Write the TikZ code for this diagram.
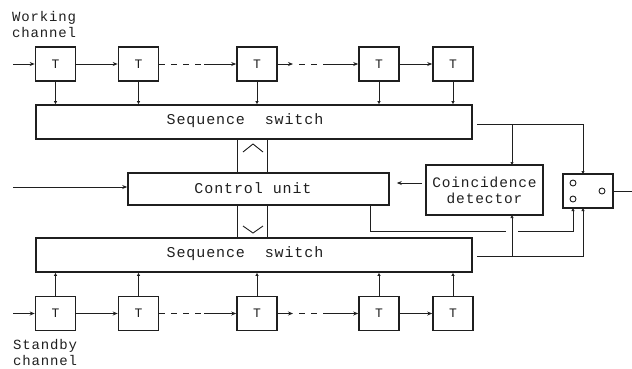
\documentclass[tikz,border=0pt]{standalone}
\usepackage{fontspec}
\usetikzlibrary{arrows.meta,calc}
\newfontfamily\plotfont[LetterSpace=6]{Liberation Mono}
\newfontfamily\labfont[LetterSpace=6]{Liberation Mono}
\definecolor{ink}{gray}{0.12}
\tikzset{
  blk/.style={draw=ink, line width=1.6pt, inner sep=0pt, font=\plotfont\fontsize{15}{16}\selectfont, text=ink},
  tbox/.style={blk, minimum width=40pt, minimum height=34pt, font=\plotfont\fontsize{13}{14}\selectfont},
  wire/.style={draw=ink, line width=0.9pt},
  harr/.style={wire, -{Stealth[length=5pt,width=4pt]}},
  varr/.style={wire, -{Latex[length=3pt,width=3.5pt]}},
  lbl/.style={inner sep=0pt, font=\labfont\fontsize{14}{16.5}\selectfont, text=ink, align=left, anchor=north west},
  swtext/.style={font=\plotfont\fontsize{15}{16}\selectfont, text=ink, inner sep=0pt},
  dashwire/.style={wire, dash pattern=on 6pt off 6pt}
}
\begin{document}
\begin{tikzpicture}[x=1pt,y=-1pt]
\useasboundingbox (0,0) rectangle (632,368);
% labels
\node[lbl] (wl) at (12,11) {Working\\channel};
\node[lbl] (sl) at (13,339) {Standby\\channel};
% top T boxes
\node[tbox] (t1) at (55.5,64) {T};
\node[tbox] (t2) at (138.5,64) {T};
\node[tbox] (t3) at (257,64) {T};
\node[tbox] (t4) at (379,64) {T};
\node[tbox] (t5) at (453,64) {T};
% bottom T boxes
\node[tbox] (b1) at (55.5,313.5) {T};
\node[tbox] (b2) at (138.5,313.5) {T};
\node[tbox] (b3) at (257,313.5) {T};
\node[tbox] (b4) at (379,313.5) {T};
\node[tbox] (b5) at (453,313.5) {T};
% switches and control
\node[blk, minimum width=436pt, minimum height=34pt] (sw1) at (254,122) {};
\node[swtext] (sw1t) at (245,121) {Sequence\ \ switch};
\node[blk, minimum width=436pt, minimum height=34pt] (sw2) at (254,255) {};
\node[swtext] (sw2t) at (245,254) {Sequence\ \ switch};
\node[blk, minimum width=261pt, minimum height=32pt] (ctl) at (258.5,189) {};
\node[swtext] (ctlt) at (253,188.5) {Control\ unit};
\node[blk, minimum width=117pt, minimum height=50pt, align=center, font=\plotfont\fontsize{14.5}{16}\selectfont] (det) at (484.5,190) {Coincidence\\detector};
\node[blk, minimum width=50pt, minimum height=34pt] (sb) at (588,191) {};
% switch contacts
\draw[wire] (573,183) circle (3pt) (573,199) circle (3pt) (602,191) circle (3pt);
% inputs
\coordinate (inw) at (13,64);
\coordinate (ins) at (13,313.5);
\coordinate (inc) at (13,187);
\draw[harr] (inw) -- (t1.west);
\draw[harr] (ins) -- (b1.west);
\draw[harr] (inc) -- (inc -| ctl.west);
% top chain
\draw[harr] (t1) -- (t2);
\coordinate (ta) at (204,64);
\draw[dashwire] (t2.east) -- (ta);
\draw[harr] (ta) -- (t3.west);
\coordinate (tb) at (293,64);
\coordinate (tc) at (327,64);
\draw[harr] (t3.east) -- (tb);
\draw[dashwire] (299,64) -- (tc);
\draw[harr] (tc) -- (t4.west);
\draw[harr] (t4) -- (t5);
% bottom chain
\draw[harr] (b1) -- (b2);
\coordinate (ba) at (204,313.5);
\draw[dashwire] (b2.east) -- (ba);
\draw[harr] (ba) -- (b3.west);
\coordinate (bb) at (293,313.5);
\coordinate (bc) at (327,313.5);
\draw[harr] (b3.east) -- (bb);
\draw[dashwire] (299,313.5) -- (bc);
\draw[harr] (bc) -- (b4.west);
\draw[harr] (b4) -- (b5);
% T to switches
\foreach \n in {1,...,5}{
  \draw[varr] (t\n.south) -- (t\n.south |- sw1.north);
  \draw[varr] (b\n.north) -- (b\n.north |- sw2.south);
}
% chevron links
\draw[wire] (237,139) -- (237,173) (267,139) -- (267,173);
\draw[wire] (243,152) -- (253,144) -- (263,152);
\draw[wire] (237,205) -- (237,238) (267,205) -- (267,238);
\draw[wire] (243,226) -- (253,233) -- (263,226);
% detector to control
\coordinate (dw) at (426,183);
\draw[harr, shorten <=4pt, shorten >=7pt] (dw) -- (dw -| ctl.east);
% top switch outputs
\coordinate (so1) at (477,124);
\draw[varr] (so1) -| (583,174);
\draw[varr] (512,124) -- (512,165);
% bottom switch outputs
\coordinate (so2) at (477,256);
\draw[varr] (so2) -| (583,208);
\draw[varr] (512,256) -- (512,215);
% control unit to switch box
\draw[wire] (370,205) |- (506,231);
\draw[varr] (518,231) -| (573,208);
% switch box output
\coordinate (out) at (632,191);
\draw[wire] (sb.east) -- (out);
\end{tikzpicture}
\end{document}
